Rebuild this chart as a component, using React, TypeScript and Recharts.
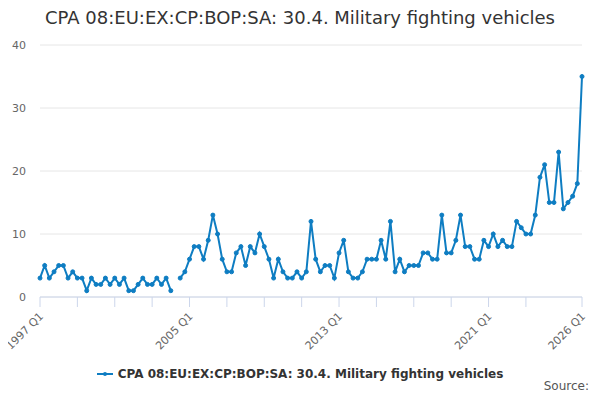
import { LineChart, Line, XAxis, YAxis, CartesianGrid, Legend } from 'recharts';

const title = 'CPA 08:EU:EX:CP:BOP:SA: 30.4. Military fighting vehicles';
const seriesName = 'CPA 08:EU:EX:CP:BOP:SA: 30.4. Military fighting vehicles';

const startYear = 1997;
const quarterCount = 117;

// quarterly values 1997 Q1 .. 2026 Q1 (null = missing)
const values: (number | null)[] = [
  3, 5, 3, 4, // 1997
  5, 5, 3, 4, // 1998
  3, 3, 1, 3, // 1999
  2, 2, 3, 2, // 2000
  3, 2, 3, 1, // 2001
  1, 2, 3, 2, // 2002
  2, 3, 2, 3, // 2003
  1, null, 3, 4, // 2004
  6, 8, 8, 6, // 2005
  9, 13, 10, 6, // 2006
  4, 4, 7, 8, // 2007
  5, 8, 7, 10, // 2008
  8, 6, 3, 6, // 2009
  4, 3, 3, 4, // 2010
  3, 4, 12, 6, // 2011
  4, 5, 5, 3, // 2012
  7, 9, 4, 3, // 2013
  3, 4, 6, 6, // 2014
  6, 9, 6, 12, // 2015
  4, 6, 4, 5, // 2016
  5, 5, 7, 7, // 2017
  6, 6, 13, 7, // 2018
  7, 9, 13, 8, // 2019
  8, 6, 6, 9, // 2020
  8, 10, 8, 9, // 2021
  8, 8, 12, 11, // 2022
  10, 10, 13, 19, // 2023
  21, 15, 15, 23, // 2024
  14, 15, 16, 18, // 2025
  35, // 2026
];

const quarterLabels = Array.from({ length: quarterCount }, (_, i) =>
  `${startYear + Math.floor(i / 4)} Q${(i % 4) + 1}`
);

// tick marks every two years, plus the last quarter
const xTicks = [0, 8, 16, 24, 32, 40, 48, 56, 64, 72, 80, 88, 96, 104, 116];
const labelledTicks = [0, 32, 64, 96, 116];
const yTicks = [0, 10, 20, 30, 40];

const data = values.map((v, i) => ({ idx: i, label: quarterLabels[i], value: v }));

const BLUE = '#0e7dc2';
const FONT = '"DejaVu Sans", Verdana, sans-serif';

function XTick({ x, y, payload }: any) {
  if (!labelledTicks.includes(payload.value)) return null;
  const tx = x + 4;
  const ty = y + 8;
  return (
    <text
      x={tx}
      y={ty}
      transform={`rotate(-45 ${tx} ${ty})`}
      textAnchor="end"
      fill="#666"
      fontSize={11}
      fontFamily={FONT}
    >
      {quarterLabels[payload.value]}
    </text>
  );
}

function renderLegend() {
  return (
    <div style={{ display: 'flex', justifyContent: 'center', alignItems: 'center', fontFamily: FONT }}>
      <svg width={16} height={10} style={{ marginRight: 5 }}>
        <line x1={0} y1={5} x2={16} y2={5} stroke={BLUE} strokeWidth={2} />
        <circle cx={8} cy={5} r={2} fill={BLUE} />
      </svg>
      <span style={{ fontSize: 12, fontWeight: 'bold', color: '#333' }}>{seriesName}</span>
    </div>
  );
}

export default function App() {
  return (
    <div style={{ position: 'relative', width: 600, height: 400, margin: -8, background: '#fff', fontFamily: FONT }}>
      <div
        style={{
          position: 'absolute',
          top: 7,
          left: 0,
          width: 600,
          textAlign: 'center',
          fontSize: 18,
          color: '#333',
          lineHeight: '22px',
        }}
      >
        {title}
      </div>
      <LineChart width={600} height={400} data={data} margin={{ top: 45, right: 18, bottom: 43, left: 0 }}>
        <CartesianGrid horizontal vertical={false} stroke="#e6e6e6" />
        <XAxis
          type="number"
          dataKey="idx"
          domain={[0, 116]}
          ticks={xTicks}
          interval={0}
          height={60}
          tick={<XTick />}
          tickSize={10}
          tickLine={{ stroke: '#ccd6eb' }}
          axisLine={{ stroke: '#ccd6eb' }}
        />
        <YAxis
          type="number"
          domain={[0, 40]}
          ticks={yTicks}
          width={40}
          axisLine={false}
          tickLine={false}
          tickMargin={8}
          tick={{ fill: '#666', fontSize: 11, fontFamily: FONT }}
        />
        <Legend
          layout="vertical"
          align="center"
          verticalAlign="middle"
          content={renderLegend}
          wrapperStyle={{ top: 367, left: 0, width: 600 }}
        />
        <Line
          type="linear"
          dataKey="value"
          name={seriesName}
          stroke={BLUE}
          strokeWidth={2}
          dot={{ r: 2, fill: BLUE, stroke: BLUE, strokeWidth: 1 }}
          activeDot={false}
          isAnimationActive={false}
        />
      </LineChart>
      <div
        style={{
          position: 'absolute',
          right: 11,
          top: 379,
          fontSize: 12,
          lineHeight: '14px',
          color: '#555',
        }}
      >
        Source:
      </div>
    </div>
  );
}
